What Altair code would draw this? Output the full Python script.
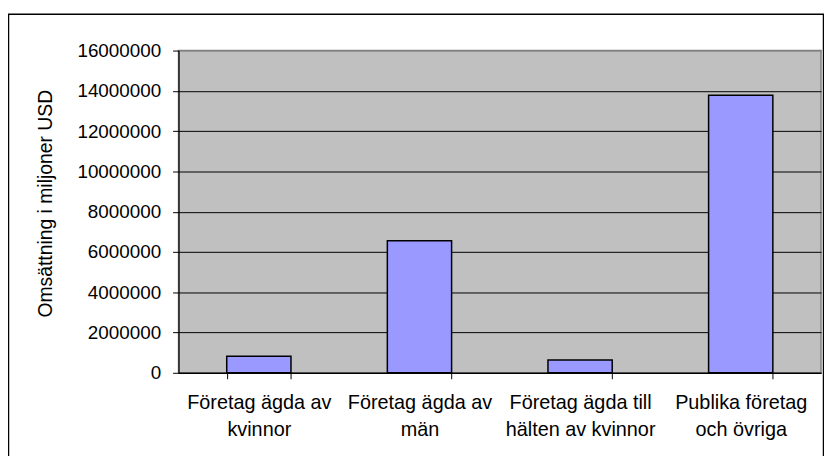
import altair as alt
import pandas as pd

# Data
categories = [
    "Företag ägda av\nkvinnor",
    "Företag ägda av\nmän",
    "Företag ägda till\nhälten av kvinnor",
    "Publika företag\noch övriga",
]
values = [820000, 6560000, 640000, 13780000]
y_ticks = [0, 2000000, 4000000, 6000000, 8000000, 10000000, 12000000, 14000000, 16000000]
y_title = "Omsättning i miljoner USD"

FONT = "Liberation Sans"

df = pd.DataFrame({"kategori": categories, "omsattning": values})

bars = alt.Chart(df).mark_bar(
    color="#9999FF", stroke="#000000", strokeWidth=1.5
).encode(
    x=alt.X(
        "kategori:N",
        sort=categories,
        scale=alt.Scale(paddingInner=0.6, paddingOuter=0.3),
        axis=alt.Axis(
            title=None,
            labelAngle=0,
            labelExpr="split(datum.label, '\\n')",
            tickBand="extent",
            ticks=True,
            tickSize=6,
            tickColor="#000000",
            domainColor="#000000",
            domainWidth=1.2,
            labelFont=FONT,
            labelFontSize=20,
            labelColor="#000000",
            labelPadding=14,
            labelLineHeight=27,
            labelLimit=0,
            grid=False,
        ),
    ),
    y=alt.Y(
        "omsattning:Q",
        scale=alt.Scale(domain=[0, 16000000], nice=False),
        axis=alt.Axis(
            values=y_ticks,
            format="d",
            title=y_title,
            titleFont=FONT,
            titleFontSize=19.5,
            titleFontWeight="normal",
            titleColor="#000000",
            titleAngle=270,
            titleAlign="center",
            titleBaseline="middle",
            titleX=-134,
            titleY=154,
            labelFont=FONT,
            labelFontSize=19,
            labelColor="#000000",
            labelPadding=12,
            tickSize=6,
            tickColor="#000000",
            domainColor="#000000",
            domainWidth=1.2,
            grid=True,
            gridColor={
                "condition": {"test": "datum.value == 16000000", "value": "#808080"},
                "value": "#000000",
            },
            gridWidth=1,
            gridOpacity=1,
        ),
    ),
)

frame = alt.Chart(pd.DataFrame({"f": [0]})).mark_rect(
    fillOpacity=0, stroke="#000000", strokeWidth=1.5
).encode(
    x=alt.value(-171.5),
    x2=alt.value(650.5),
    y=alt.value(-36.5),
    y2=alt.value(430),
)

chart = alt.layer(frame, bars).properties(
    width=648,
    height=325,
    autosize="none",
    padding={"left": 172, "top": 41, "right": 3, "bottom": 82},
    background="#FFFFFF",
).configure_view(
    fill="#C0C0C0", stroke="#808080", strokeWidth=1.5
)

chart.save("out.html", embed_options={"renderer": "svg", "actions": False})
